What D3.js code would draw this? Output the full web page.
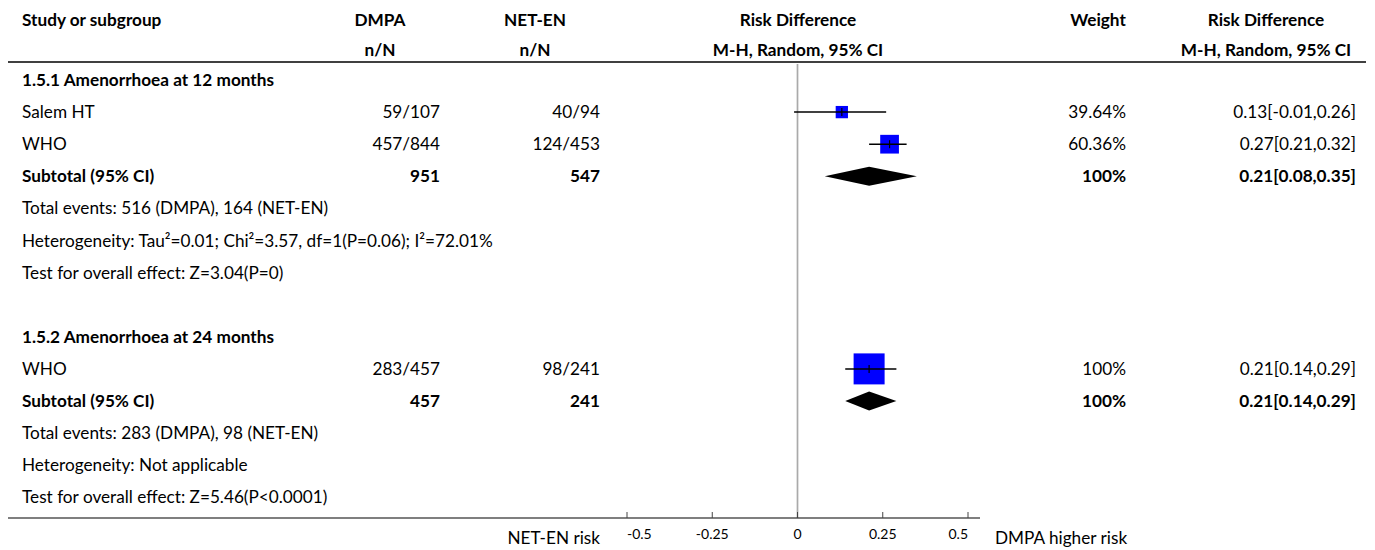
<meta charset="utf-8">
<script src="https://cdn.jsdelivr.net/npm/d3@7"></script>
<style>
  body { margin: 0; background: #fff; }
  svg text { font-family: Lato, "Noto Sans", sans-serif; font-size: 17.2px; fill: #000; }
</style>
<svg width="1375" height="550"></svg>
<script>
  // data
  const groupTitles = ['1.5.1 Amenorrhoea at 12 months', '1.5.2 Amenorrhoea at 24 months'];
  const studyNames = ['Salem HT', 'WHO', 'WHO'];
  const studyGroup = [0, 0, 1];
  const dmpaEvents = [59, 457, 283];
  const dmpaTotal = [107, 844, 457];
  const netenEvents = [40, 124, 98];
  const netenTotal = [94, 453, 241];
  const studyWeight = [39.64, 60.36, 100];
  const studyRD = [0.13, 0.27, 0.21];
  const studyLo = [-0.01, 0.21, 0.14];
  const studyHi = [0.26, 0.32, 0.29];

  const subDmpa = [951, 457];
  const subNeten = [547, 241];
  const subWeight = [100, 100];
  const subRD = [0.21, 0.21];
  const subLo = [0.08, 0.14];
  const subHi = [0.35, 0.29];
  const totalEvents = ['Total events: 516 (DMPA), 164 (NET-EN)', 'Total events: 283 (DMPA), 98 (NET-EN)'];
  const heterogeneity = ['Heterogeneity: Tau\u00b2=0.01; Chi\u00b2=3.57, df=1(P=0.06); I\u00b2=72.01%', 'Heterogeneity: Not applicable'];
  const overallTest = ['Test for overall effect: Z=3.04(P=0)', 'Test for overall effect: Z=5.46(P<0.0001)'];

  const xTicks = [-0.5, -0.25, 0, 0.25, 0.5];
  const xTickLabels = ['-0.5', '-0.25', '0', '0.25', '0.5'];

  const svg = d3.select('svg');

  // build the rows
  const rows = [];
  groupTitles.forEach(function(title, g) {
    rows.push({ type: 'group', label: title });
    studyNames.forEach(function(name, i) {
      if (studyGroup[i] != g) return;
      rows.push({ type: 'study', label: name,
        dmpa: dmpaEvents[i] + '/' + dmpaTotal[i], neten: netenEvents[i] + '/' + netenTotal[i],
        w: studyWeight[i], rd: studyRD[i], lo: studyLo[i], hi: studyHi[i] });
    });
    rows.push({ type: 'subtotal', label: 'Subtotal (95% CI)', dmpa: subDmpa[g], neten: subNeten[g],
      w: subWeight[g], rd: subRD[g], lo: subLo[g], hi: subHi[g] });
    rows.push({ type: 'note', label: totalEvents[g] });
    rows.push({ type: 'note', label: heterogeneity[g] });
    rows.push({ type: 'note', label: overallTest[g] });
    if (g == 0) rows.push({ type: 'blank', label: '' });
  });

  const y = d3.scaleLinear().domain([0, 1]).range([80, 112.1]);
  const x = d3.scaleLinear().domain([-0.5, 0.5]).range([627, 968]);
  const boxSize = d3.scaleLinear().domain([0, 100]).range([0, 31]);
  const fmt = function(v) { return d3.format('.2f')(v).replace('\u2212', '-'); };
  const ciText = function(d) { return fmt(d.rd) + '[' + fmt(d.lo) + ',' + fmt(d.hi) + ']'; };

  // header
  const header = svg.append('g');
  const head = [
    { x: 22, a: 'start', t1: 'Study or subgroup', t2: '' },
    { x: 380, a: 'middle', t1: 'DMPA', t2: 'n/N' },
    { x: 535, a: 'middle', t1: 'NET-EN', t2: 'n/N' },
    { x: 798, a: 'middle', t1: 'Risk Difference', t2: 'M-H, Random, 95% CI' },
    { x: 1098, a: 'middle', t1: 'Weight', t2: '' },
    { x: 1266, a: 'middle', t1: 'Risk Difference', t2: 'M-H, Random, 95% CI' }
  ];
  head.forEach(function(h) {
    header.append('text').attr('x', h.x).attr('y', 20).attr('dy', '0.35em')
      .attr('text-anchor', h.a).style('font-weight', 'bold').text(h.t1);
    header.append('text').attr('x', h.x).attr('y', 50).attr('dy', '0.35em')
      .attr('text-anchor', h.a).style('font-weight', 'bold').text(h.t2);
  });
  svg.append('line').attr('x1', 8).attr('x2', 1366).attr('y1', 62).attr('y2', 62)
    .attr('stroke', '#000').attr('stroke-width', 1.5);

  // zero line
  svg.append('line').attr('x1', x(0)).attr('x2', x(0)).attr('y1', 64).attr('y2', 518)
    .attr('stroke', '#aaa').attr('stroke-width', 1.7);

  // text columns
  rows.forEach(function(d, i) {
    const bold = d.type == 'group' || d.type == 'subtotal';
    const g = svg.append('g').style('font-weight', bold ? 'bold' : 'normal');
    const yy = y(i);
    g.append('text').attr('x', 22).attr('y', yy).attr('dy', '0.35em').text(d.label);
    if (d.type == 'study' || d.type == 'subtotal') {
      g.append('text').attr('x', 440).attr('y', yy).attr('dy', '0.35em').attr('text-anchor', 'end').text(d.dmpa);
      g.append('text').attr('x', 600).attr('y', yy).attr('dy', '0.35em').attr('text-anchor', 'end').text(d.neten);
      g.append('text').attr('x', 1126).attr('y', yy).attr('dy', '0.35em').attr('text-anchor', 'end').text(d.w + '%');
      g.append('text').attr('x', 1356).attr('y', yy).attr('dy', '0.35em').attr('text-anchor', 'end').text(ciText(d));
    }
  });

  // study markers
  const studies = rows.map(function(d, i) { return Object.assign({ i: i }, d); })
    .filter(function(d) { return d.type == 'study'; });
  svg.selectAll('.box').data(studies).enter().append('rect')
    .attr('x', function(d) { return x(d.rd) - boxSize(d.w) / 2; })
    .attr('y', function(d) { return y(d.i) - boxSize(d.w) / 2; })
    .attr('width', function(d) { return boxSize(d.w); })
    .attr('height', function(d) { return boxSize(d.w); })
    .style('fill', '#0000ff');
  svg.selectAll('.ci').data(studies).enter().append('line')
    .attr('x1', function(d) { return x(d.lo); })
    .attr('x2', function(d) { return x(d.hi); })
    .attr('y1', function(d) { return y(d.i); })
    .attr('y2', function(d) { return y(d.i); })
    .attr('stroke', '#000').attr('stroke-width', 1.5);
  svg.selectAll('.pt').data(studies).enter().append('line')
    .attr('x1', function(d) { return x(d.rd); })
    .attr('x2', function(d) { return x(d.rd); })
    .attr('y1', function(d) { return y(d.i) - 4; })
    .attr('y2', function(d) { return y(d.i) + 4; })
    .attr('stroke', '#000').attr('stroke-width', 1.2);

  // subtotal diamonds
  const subs = rows.map(function(d, i) { return Object.assign({ i: i }, d); })
    .filter(function(d) { return d.type == 'subtotal'; });
  svg.selectAll('.diamond').data(subs).enter().append('polygon')
    .attr('points', function(d) {
      const yy = y(d.i);
      return [[x(d.lo), yy], [x(d.rd), yy - 9.5], [x(d.hi), yy], [x(d.rd), yy + 9.5]].join(' ');
    })
    .style('fill', '#000');

  // bottom axis
  svg.append('line').attr('x1', 8).attr('x2', 980).attr('y1', 518).attr('y2', 518)
    .attr('stroke', '#000').attr('stroke-width', 1.2);
  const axis = svg.append('g');
  axis.selectAll('line').data(xTicks).enter().append('line')
    .attr('x1', function(d) { return x(d); }).attr('x2', function(d) { return x(d); })
    .attr('y1', 512).attr('y2', 518).attr('stroke', '#444');
  axis.selectAll('text').data(xTicks).enter().append('text')
    .attr('x', function(d) { return x(d); })
    .attr('y', 534).attr('dy', '0.35em')
    .attr('text-anchor', function(d, i) { return i == 0 ? 'start' : (i == xTicks.length - 1 ? 'end' : 'middle'); })
    .style('font-size', '14px')
    .text(function(d, i) { return xTickLabels[i]; });
  svg.append('text').attr('x', 600).attr('y', 538).attr('dy', '0.35em').attr('text-anchor', 'end').text('NET-EN risk');
  svg.append('text').attr('x', 995).attr('y', 538).attr('dy', '0.35em').text('DMPA higher risk');
</script>
